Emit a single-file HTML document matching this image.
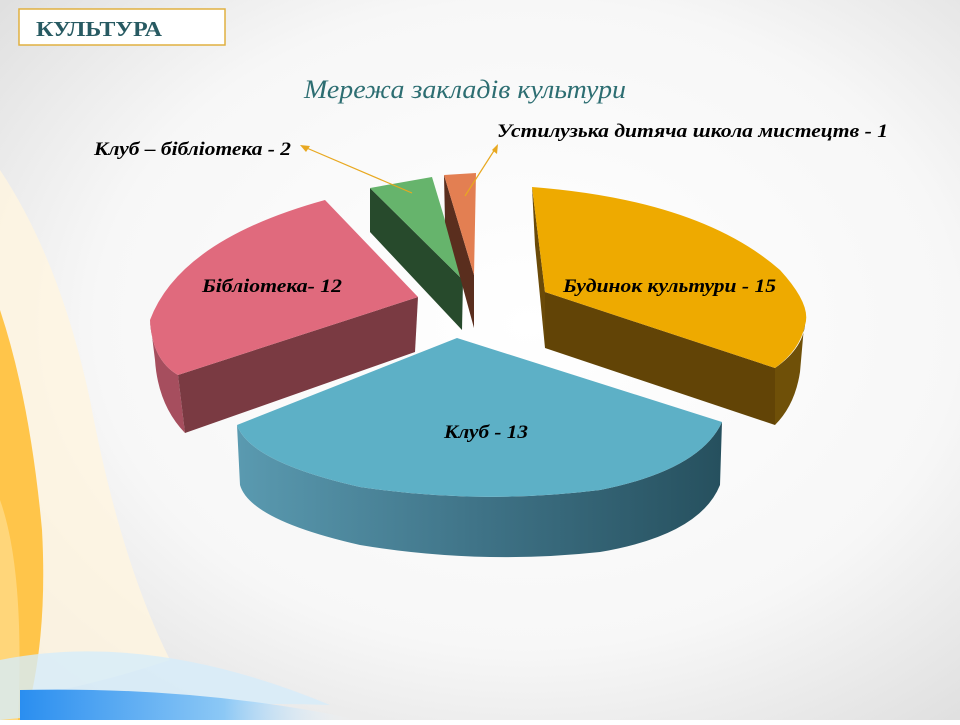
<!DOCTYPE html>
<html><head><meta charset="utf-8"><style>
body{margin:0;width:960px;height:720px;overflow:hidden;font-family:"Liberation Serif",serif;}
</style></head><body>
<svg width="960" height="720" viewBox="0 0 960 720" xmlns="http://www.w3.org/2000/svg">
<defs>
<radialGradient id="bg" cx="0.55" cy="0.45" r="0.75">
<stop offset="0" stop-color="#ffffff"/><stop offset="0.6" stop-color="#f7f7f7"/><stop offset="1" stop-color="#dcdcdc"/></radialGradient>
<linearGradient id="cy" x1="0" y1="0" x2="1" y2="0"><stop offset="0" stop-color="#5a9ab0"/><stop offset="0.5" stop-color="#3f7387"/><stop offset="1" stop-color="#26505e"/></linearGradient>
<linearGradient id="blu" x1="0" y1="0" x2="1" y2="0"><stop offset="0" stop-color="#2a8ef0"/><stop offset="0.6" stop-color="#8cc8f5"/><stop offset="1" stop-color="#ffffff" stop-opacity="0"/></linearGradient>
</defs>
<rect width="960" height="720" fill="url(#bg)"/>
<path d="M0,170 Q60,260 90,400 Q120,560 170,660 Q80,690 0,700 Z" fill="#fff5e0" opacity="0.8"/>
<path d="M0,310 Q30,400 42,530 Q48,640 25,720 L0,720 Z" fill="#ffc54a"/>
<path d="M0,500 Q25,570 18,720 L0,720 Z" fill="#ffd67a"/>
<path d="M0,660 Q150,630 330,705 Q200,700 0,720 Z" fill="#d6ecfa" opacity="0.8"/>
<path d="M20,690 Q200,686 360,720 L20,720 Z" fill="url(#blu)"/>
<rect x="19" y="9" width="206" height="36" fill="#fff" stroke="#e0b040" stroke-width="1.5"/>
<text x="36" y="36" font-size="21" font-weight="bold" fill="#275a62" textLength="126" lengthAdjust="spacingAndGlyphs">КУЛЬТУРА</text>
<text x="304" y="98" font-size="26" font-style="italic" fill="#2d6e72" textLength="322" lengthAdjust="spacingAndGlyphs">Мережа закладів культури</text>
<!-- pink -->
<path d="M150,320 Q152,360 178,375 L185,433 Q158,405 155,360 Z" fill="#a64e5e"/>
<path d="M178,375 L418,297 L415,352 L185,433 Z" fill="#7a3a42"/>
<path d="M325,200 Q180,240 150,320 Q152,360 178,375 L418,297 Z" fill="#e06a7d"/>
<!-- green -->
<path d="M370,188 L463,280 L462,330 L370,232 Z" fill="#274a2c"/>
<path d="M370,188 L432,177 L463,280 Z" fill="#66b46c"/>
<!-- orange -->
<path d="M444,175 L474,275 L474,328 L445,222 Z" fill="#5a2e1e"/>
<path d="M444,175 L476,173 L474,275 Z" fill="#e37f52"/>
<!-- yellow -->
<path d="M532,187 L545,292 L545,348 L535,245 Z" fill="#6a4a08"/>
<path d="M545,292 L775,368 L775,425 L545,348 Z" fill="#624406"/>
<path d="M775,368 Q808,345 805,315 L800,372 Q795,405 775,425 Z" fill="#6f5008"/>
<path d="M532,187 Q700,200 780,270 Q812,305 805,325 Q800,350 775,368 L545,292 Z" fill="#eeaa00"/>
<!-- cyan -->
<path d="M237,425 Q250,462 360,487 Q480,505 600,490 Q700,470 722,422 L720,485 Q700,535 600,552 Q480,565 360,545 Q250,520 240,485 Z" fill="url(#cy)"/>
<path d="M457,338 L722,422 Q700,470 600,490 Q480,505 360,487 Q250,462 237,425 Z" fill="#5db0c6"/>
<!-- arrows -->
<line x1="412" y1="193" x2="302" y2="146" stroke="#e8a820" stroke-width="1.2"/>
<path d="M300,145 L310,146 L306,152 Z" fill="#e8a820"/>
<line x1="465" y1="196" x2="497" y2="146" stroke="#e8a820" stroke-width="1.2"/>
<path d="M498,144 L497,154 L492,150 Z" fill="#e8a820"/>
<g font-size="19" font-weight="bold" font-style="italic" fill="#000" lengthAdjust="spacingAndGlyphs">
<text x="94" y="155" textLength="197" lengthAdjust="spacingAndGlyphs">Клуб – бібліотека - 2</text>
<text x="497" y="137" textLength="391" lengthAdjust="spacingAndGlyphs">Устилузька дитяча школа мистецтв - 1</text>
<text x="563" y="292" textLength="213" lengthAdjust="spacingAndGlyphs">Будинок культури - 15</text>
<text x="202" y="292" textLength="140" lengthAdjust="spacingAndGlyphs">Бібліотека- 12</text>
<text x="444" y="438" textLength="84" lengthAdjust="spacingAndGlyphs">Клуб - 13</text>
</g>
</svg>
</body></html>
